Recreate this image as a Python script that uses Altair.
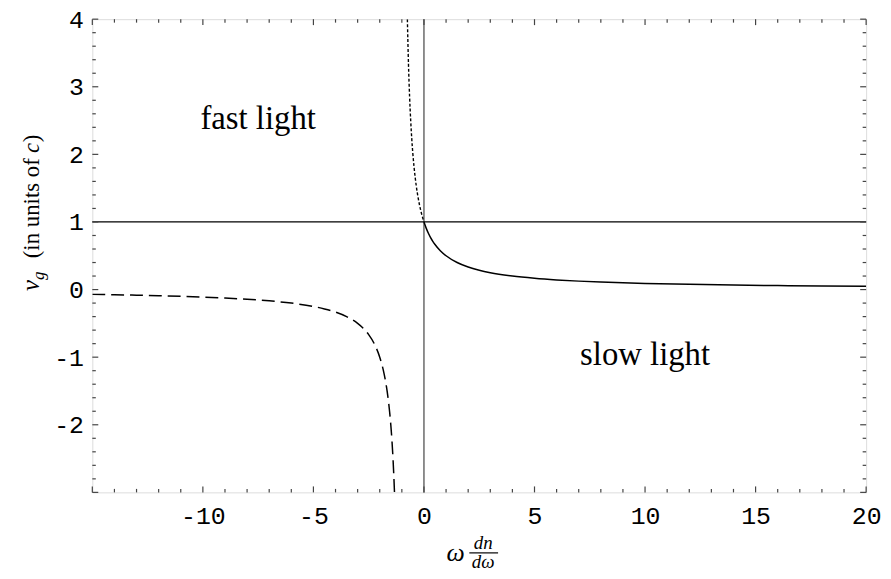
import altair as alt
import pandas as pd

# ---- curve values ----
fast_x = [-0.75, -0.7, -0.65, -0.6, -0.55, -0.5, -0.45, -0.4, -0.35, -0.3, -0.25, -0.2, -0.15, -0.1, -0.05, 0.0]
fast_y = [4.0, 3.333, 2.857, 2.5, 2.222, 2.0, 1.818, 1.667, 1.538, 1.429, 1.333, 1.25, 1.176, 1.111, 1.053, 1.0]

slow_x = [0, 0.1, 0.2, 0.3, 0.4, 0.5, 0.75, 1, 1.5, 2, 2.5, 3, 4, 5, 6, 7, 8, 10, 12, 14, 16, 18, 20]
slow_y = [1.0, 0.909, 0.833, 0.769, 0.714, 0.667, 0.571, 0.5, 0.4, 0.333, 0.286, 0.25, 0.2, 0.167,
          0.143, 0.125, 0.111, 0.091, 0.077, 0.067, 0.059, 0.053, 0.048]

neg_x = [-15, -14, -13, -12, -11, -10, -9, -8, -7, -6, -5, -4.5, -4, -3.5, -3, -2.75, -2.5, -2.25,
         -2, -1.9, -1.8, -1.7, -1.6, -1.55, -1.5, -1.45, -1.4, -1.367, -1.333]
neg_y = [-0.071, -0.077, -0.083, -0.091, -0.1, -0.111, -0.125, -0.143, -0.167, -0.2, -0.25, -0.286,
         -0.333, -0.4, -0.5, -0.571, -0.667, -0.8, -1.0, -1.111, -1.25, -1.429, -1.667, -1.818,
         -2.0, -2.222, -2.5, -2.725, -3.0]

# reference lines
hline_y = [1]
vline_x = [0]

# ---- axes ----
x_domain = [-15, 20]
y_domain = [-3, 4]
x_labels = [-10, -5, 0, 5, 10, 15, 20]
y_labels = [-2, -1, 0, 1, 2, 3, 4]
x_major = [-15, -10, -5, 0, 5, 10, 15, 20]
x_minor = [v for v in range(-15, 21) if v % 5 != 0]
y_major = [-3, -2, -1, 0, 1, 2, 3, 4]
y_minor = [round(-3 + 0.2 * i, 1) for i in range(36) if (i % 5) != 0]

# ---- annotations ----
ann_text = ["fast light", "slow light"]
ann_x = [-7.5, 10.0]
ann_y = [2.37, -1.12]

W, H = 780, 477
SERIF = "Liberation Serif"
MONO = "Liberation Mono"
LBL = "datum.value < 0 ? '-' + (-datum.value) : '' + datum.value"

xscale = alt.Scale(domain=x_domain, nice=False, zero=False)
yscale = alt.Scale(domain=y_domain, nice=False, zero=False)
xaxis = alt.Axis(values=x_labels, domain=False, ticks=False, grid=False, labelFont=MONO,
                 labelFontSize=25, labelColor="black", labelPadding=11, labelFlush=False,
                 labelOverlap=False, labelExpr=LBL, title=None)
yaxis = alt.Axis(values=y_labels, domain=False, ticks=False, grid=False, labelFont=MONO,
                 labelFontSize=25, labelColor="black", labelPadding=9, labelFlush=False,
                 labelOverlap=False, labelExpr=LBL, title=None)


def X(f):
    return alt.X(f, type="quantitative", scale=xscale, axis=xaxis)


def Y(f):
    return alt.Y(f, type="quantitative", scale=yscale, axis=yaxis)


df_fast = pd.DataFrame({"x": fast_x, "y": fast_y})
df_slow = pd.DataFrame({"x": slow_x, "y": slow_y})
df_neg = pd.DataFrame({"x": neg_x, "y": neg_y})

slow_line = alt.Chart(df_slow).mark_line(color="black", strokeWidth=1.5, interpolate="monotone", clip=True).encode(
    x=X("x"), y=Y("y"))
fast_line = alt.Chart(df_fast).mark_line(color="black", strokeWidth=1.4, strokeDash=[3, 2],
                                         interpolate="monotone", clip=True).encode(x=X("x"), y=Y("y"))
neg_line = alt.Chart(df_neg).mark_line(color="black", strokeWidth=1.5, strokeDash=[13, 6],
                                       interpolate="monotone", clip=True).encode(x=X("x"), y=Y("y"))

hline = alt.Chart(pd.DataFrame({"y": hline_y})).mark_rule(color="black", strokeWidth=1.2).encode(y=Y("y"))
vline = alt.Chart(pd.DataFrame({"x": vline_x})).mark_rule(color="#333", strokeWidth=1.1).encode(x=X("x"))

TICK = "#444"


def xticks(vals, ln):
    d = pd.DataFrame({"x": vals})
    bot = alt.Chart(d).mark_rule(color=TICK, strokeWidth=1.2).encode(
        x=X("x"), y=alt.value(H), y2=alt.value(H - ln))
    top = alt.Chart(d).mark_rule(color=TICK, strokeWidth=1.2).encode(
        x=X("x"), y=alt.value(0), y2=alt.value(ln))
    return [bot, top]


def yticks(vals, ln):
    d = pd.DataFrame({"y": vals})
    left = alt.Chart(d).mark_rule(color=TICK, strokeWidth=1.2).encode(
        y=Y("y"), x=alt.value(0), x2=alt.value(ln))
    right = alt.Chart(d).mark_rule(color=TICK, strokeWidth=1.2).encode(
        y=Y("y"), x=alt.value(W), x2=alt.value(W - ln))
    return [left, right]


ticks = xticks(x_major, 6) + xticks(x_minor, 3.5) + yticks(y_major, 6) + yticks(y_minor, 3.5)

ann = alt.Chart(pd.DataFrame({"x": ann_x, "y": ann_y, "t": ann_text})).mark_text(
    font=SERIF, fontSize=33, align="center", baseline="alphabetic", color="black").encode(
    x=X("x"), y=Y("y"), text="t:N")


def ptext(txt, px, py, size, style="normal", angle=0, align="left", baseline="alphabetic"):
    return alt.Chart(pd.DataFrame({"t": [txt]})).mark_text(
        font=SERIF, fontSize=size, fontStyle=style, angle=angle, align=align, baseline=baseline,
        color="black").encode(x=alt.value(px), y=alt.value(py), text="t:N")


# y axis title: v_g (in units of c), rotated (positions relative to the plot's top-left corner)
ytitle = [
    ptext("v", -54, 274, 25, "italic", 270),
    ptext("g", -49, 263, 17, "italic", 270),
    ptext("(in units of", -54, 241, 23, "normal", 270),
    ptext("c", -54, 135, 23, "italic", 270),
    ptext(")", -54, 124, 23, "normal", 270),
]

# x axis title: omega dn/domega
xtitle = [
    ptext("ω", 357, 546, 26, "italic"),
    ptext("dn", 394, 534, 19, "italic", 0, "center"),
    ptext("dω", 394, 553.5, 19, "italic", 0, "center"),
    alt.Chart(pd.DataFrame({"a": [0]})).mark_rule(color="black", strokeWidth=1.2).encode(
        x=alt.value(380), x2=alt.value(409), y=alt.value(538)),
]

chart = alt.layer(
    hline, vline, neg_line, fast_line, slow_line, *ticks, ann, *ytitle, *xtitle
).properties(
    width=W, height=H,
    autosize=alt.AutoSizeParams(type="none"),
    padding={"left": 85, "top": 9, "right": 17, "bottom": 77},
).configure_view(stroke="#444", strokeWidth=1.5).configure(background="white")

chart.save("out.html", embed_options={"renderer": "svg", "actions": False})
